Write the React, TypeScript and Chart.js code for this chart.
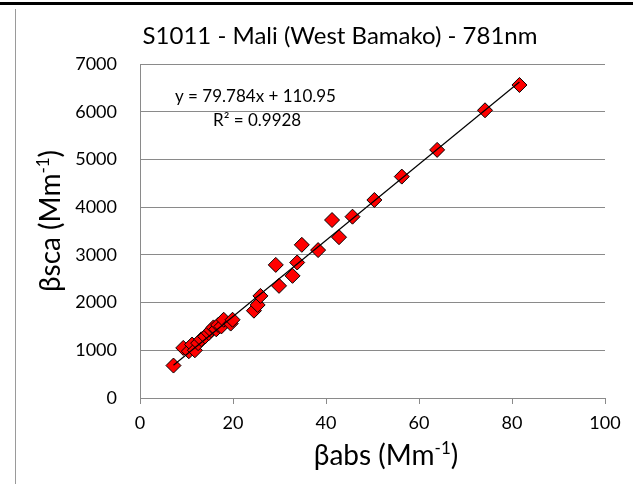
import React, { useEffect, useRef } from "react";
import { Chart, registerables } from "chart.js";

Chart.register(...registerables);

// ---- data ----
const absValues = [
  7.2, 9.3, 10.5, 11.2, 11.8, 12.5, 13.2, 14.0, 14.8, 15.3, 15.8, 16.4, 16.8, 17.5,
  18.0, 19.5, 19.9, 24.5, 25.3, 25.9, 29.2, 29.9, 32.8, 33.8, 34.8, 38.3, 41.3, 42.8,
  45.7, 50.4, 56.3, 63.9, 74.2, 81.6,
];
const scaValues = [
  680, 1050, 980, 1120, 1000, 1150, 1230, 1290, 1360, 1420, 1480, 1440, 1530, 1500,
  1640, 1560, 1640, 1830, 1950, 2140, 2790, 2350, 2560, 2840, 3210, 3100, 3730, 3370,
  3800, 4150, 4640, 5200, 6030, 6560,
];
const trendSlope = 79.784;
const trendIntercept = 110.95;
const rSquared = "0.9928";
const xMin = 0;
const xMax = 100;
const xStep = 20;
const yMin = 0;
const yMax = 7000;
const yStep = 1000;
const titleText = "S1011 - Mali (West Bamako) - 781nm";
const xTitleMain = "\u03B2abs (Mm";
const yTitleMain = "\u03B2sca (Mm";
const titleSup = "-1";

const FONT = "Lato, 'Open Sans', sans-serif";
const GRID = "#8a8a8a";

function drawSupTitle(
  ctx: CanvasRenderingContext2D,
  main: string,
  size: number,
  cx: number,
  cy: number,
  rotate: boolean
) {
  ctx.save();
  ctx.translate(cx, cy);
  if (rotate) ctx.rotate(-Math.PI / 2);
  const supSize = Math.round(size * 0.62);
  ctx.font = `${size}px ${FONT}`;
  const w1 = ctx.measureText(main).width;
  const w3 = ctx.measureText(")").width;
  ctx.font = `${supSize}px ${FONT}`;
  const w2 = ctx.measureText(titleSup).width;
  const total = w1 + w2 + w3;
  let x = -total / 2;
  ctx.fillStyle = "#000";
  ctx.textBaseline = "alphabetic";
  ctx.textAlign = "left";
  const base = size * 0.36;
  ctx.font = `${size}px ${FONT}`;
  ctx.fillText(main, x, base);
  x += w1;
  ctx.font = `${supSize}px ${FONT}`;
  ctx.fillText(titleSup, x, base - size * 0.38);
  x += w2;
  ctx.font = `${size}px ${FONT}`;
  ctx.fillText(")", x, base);
  ctx.restore();
}

const decorPlugin = {
  id: "decor",
  afterDraw(chart: any) {
    const ctx: CanvasRenderingContext2D = chart.ctx;
    ctx.save();
    // outer frame pieces
    ctx.fillStyle = "#000";
    ctx.fillRect(0, 2, chart.width, 3);
    ctx.strokeStyle = "#9a9a9a";
    ctx.lineWidth = 1;
    ctx.beginPath();
    ctx.moveTo(15.5, 9);
    ctx.lineTo(15.5, chart.height);
    ctx.stroke();

    // title
    ctx.fillStyle = "#000";
    ctx.font = `24px ${FONT}`;
    ctx.textAlign = "center";
    ctx.textBaseline = "middle";
    ctx.fillText(titleText, 340, 36);

    // trendline label
    ctx.font = `17px ${FONT}`;
    ctx.textAlign = "left";
    ctx.fillText(`y = ${trendSlope}x + ${trendIntercept}`, 175, 97);
    ctx.fillText(`R\u00B2 = ${rSquared}`, 213, 121);
    ctx.restore();

    // axis titles
    drawSupTitle(ctx, xTitleMain, 28, 386, 455, false);
    drawSupTitle(ctx, yTitleMain, 28, 50, 221, true);
  },
};

export default function App() {
  const ref = useRef<HTMLCanvasElement | null>(null);

  useEffect(() => {
    if (!ref.current) return;
    const points = absValues.map((x, i) => ({ x, y: scaValues[i] }));
    const lo = Math.min(...absValues);
    const hi = Math.max(...absValues);
    const trend = [lo, hi].map((x) => ({ x, y: trendSlope * x + trendIntercept }));

    const chart = new Chart(ref.current, {
      type: "scatter",
      data: {
        datasets: [
          {
            type: "line",
            data: trend,
            borderColor: "#000",
            borderWidth: 1.2,
            pointRadius: 0,
            fill: false,
            order: 0,
          } as any,
          {
            data: points,
            pointStyle: "rectRot",
            pointRadius: 7.5,
            pointHoverRadius: 7.5,
            backgroundColor: "#ff0000",
            borderColor: "#000",
            borderWidth: 1,
            order: 1,
          },
        ],
      },
      options: {
        animation: false,
        responsive: false,
        devicePixelRatio: 1,
        layout: { padding: { top: 64, right: 28, left: 0, bottom: 0 } },
        plugins: {
          legend: { display: false },
          title: { display: false },
          tooltip: { enabled: false },
        },
        scales: {
          x: {
            type: "linear",
            min: xMin,
            max: xMax,
            ticks: {
              stepSize: xStep,
              padding: 8,
              color: "#000",
              font: { family: FONT, size: 18 },
              callback: (v: any) => String(v),
            },
            grid: {
              drawOnChartArea: false,
              drawTicks: true,
              tickLength: 6,
              color: GRID,
            },
            border: { color: GRID, width: 1 },
            afterFit: (s: any) => {
              s.height = 86;
            },
          },
          y: {
            type: "linear",
            min: yMin,
            max: yMax,
            ticks: {
              stepSize: yStep,
              padding: 23,
              color: "#000",
              font: { family: FONT, size: 18 },
              callback: (v: any) => String(v),
            },
            grid: { color: GRID, drawTicks: false },
            border: { color: GRID, width: 1 },
            afterFit: (s: any) => {
              s.width = 140;
            },
          },
        },
      },
      plugins: [decorPlugin],
    });
    return () => chart.destroy();
  }, []);

  return (
    <div style={{ position: "fixed", left: 0, top: 0, width: 633, height: 484, background: "#fff" }}>
      <canvas ref={ref} width={633} height={484} />
    </div>
  );
}
